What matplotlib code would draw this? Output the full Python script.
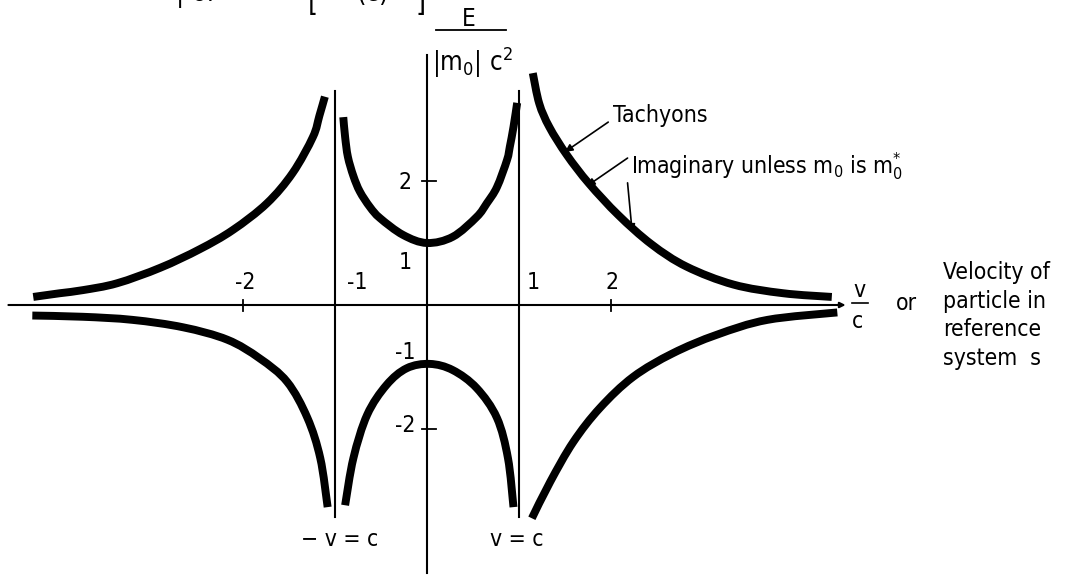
import matplotlib
matplotlib.use('Agg')
import matplotlib.pyplot as plt
import numpy as np
from matplotlib import font_manager
from matplotlib.path import Path
from matplotlib.patches import PathPatch

# curves: v/c and E/(|m0|c^2)
v_tl = [-4.28, -3.99, -3.74, -3.37, -2.90, -2.47, -2.11, -1.74, -1.46, -1.24, -1.17, -1.11]
E_tl = [0.13, 0.19, 0.24, 0.35, 0.60, 0.90, 1.21, 1.64, 2.13, 2.71, 3.05, 3.36]

v_tr = [1.15, 1.22, 1.33, 1.52, 1.76, 2.08, 2.44, 2.82, 3.33, 3.87, 4.40]
E_tr = [3.74, 3.25, 2.87, 2.42, 1.96, 1.45, 0.98, 0.62, 0.33, 0.19, 0.13]

v_mu = [-0.91, -0.89, -0.86, -0.80, -0.73, -0.62, -0.51, -0.26, 0.0, 0.28, 0.54, 0.65, 0.76, 0.87, 0.90, 0.94, 0.98]
E_mu = [3.03, 2.71, 2.39, 2.08, 1.83, 1.58, 1.40, 1.13, 1.00, 1.10, 1.42, 1.64, 1.90, 2.34, 2.55, 2.87, 3.26]

v_bl = [-4.29, -3.74, -3.20, -2.65, -2.17, -1.82, -1.52, -1.30, -1.16, -1.08]
E_bl = [-0.17, -0.19, -0.24, -0.36, -0.56, -0.86, -1.24, -1.82, -2.47, -3.26]

v_mb = [-0.89, -0.80, -0.65, -0.44, -0.22, 0.03, 0.28, 0.54, 0.76, 0.88, 0.94]
E_mb = [-3.23, -2.47, -1.77, -1.29, -1.02, -0.95, -1.05, -1.34, -1.82, -2.47, -3.26]

v_br = [1.14, 1.34, 1.59, 1.88, 2.24, 2.67, 3.15, 3.70, 4.46]
E_br = [-3.44, -2.85, -2.21, -1.66, -1.16, -0.78, -0.48, -0.24, -0.12]

xticks = [-2, 2]
xlabels = ['-2', '-1', '1', '2']
xlabel_pos = [-1.98, -0.76, 1.16, 2.01]
yticks = [2, -2]
ylabels = ['2', '1', '-1', '-2']
ylabel_pos = [1.97, 0.69, -0.76, -1.95]


def smooth(xs, ys):
    # bezier through the read points (catmull-rom handles)
    p = np.column_stack([xs, ys])
    n = len(p)
    verts = [p[0]]
    codes = [Path.MOVETO]
    for i in range(n - 1):
        a = p[i - 1] if i > 0 else p[i]
        d = p[i + 2] if i + 2 < n else p[i + 1]
        verts += [p[i] + (p[i + 1] - a) / 6, p[i + 1] - (d - p[i]) / 6, p[i + 1]]
        codes += [Path.CURVE4] * 3
    return Path(verts, codes)


names = {f.name for f in font_manager.fontManager.ttflist}
cond = [f for f in font_manager.fontManager.ttflist
        if f.name == 'DejaVu Sans' and f.stretch == 'condensed' and f.weight in (400, 'normal')]
if 'Liberation Sans Narrow' in names:
    fam = 'Liberation Sans Narrow'
    fs = 17
elif cond:
    fam = 'DejaVu Sans'
    plt.rcParams['font.stretch'] = 'condensed'
    fs = 16.5
else:
    fam = 'DejaVu Sans'
    fs = 15
plt.rcParams['font.family'] = [fam, 'DejaVu Sans']
plt.rcParams['mathtext.fontset'] = 'custom'
plt.rcParams['mathtext.rm'] = fam

fig = plt.figure(figsize=(10.65, 5.75), dpi=100)
ax = fig.add_axes([0, 0, 1, 1])
ax.set_xlim(-427/92, (1065-427)/92)
ax.set_ylim((305-575)/62, 305/62)
ax.axis('off')

lw = 5.7
for xs, ys in [(v_tl, E_tl), (v_tr, E_tr), (v_mu, E_mu), (v_bl, E_bl), (v_mb, E_mb), (v_br, E_br)]:
    ax.add_patch(PathPatch(smooth(xs, ys), fill=False, edgecolor='black', lw=lw,
                           capstyle='butt', joinstyle='round'))

# axes lines
ax.annotate('', xy=(4.55, 0), xytext=(-4.55, 0),
            arrowprops=dict(arrowstyle='-|>', lw=1.5, color='black', mutation_scale=8, shrinkA=0, shrinkB=0))
ax.plot([0, 0], [4.03, -4.32], color='black', lw=1.5)
for xv in [-1, 1]:
    ax.plot([xv, xv], [3.45, -3.42], color='black', lw=1.5)
for t in xticks:
    ax.plot([t, t], [-0.1, 0.08], color='black', lw=1.3)
for t in yticks:
    ax.plot([-0.05, 0.1], [t, t], color='black', lw=1.3)

for p, s in zip(xlabel_pos, xlabels):
    ax.text(p, 0.36, s, ha='center', va='center', fontsize=fs)
for p, s in zip(ylabel_pos, ylabels):
    ax.text(-0.24, p, s, ha='center', va='center', fontsize=fs)

ax.text(-0.95, -3.79, '− v = c', ha='center', va='center', fontsize=fs)
ax.text(0.98, -3.79, 'v = c', ha='center', va='center', fontsize=fs)

# y label fraction
ax.text(0.45, 4.62, 'E', ha='center', va='center', fontsize=fs + 1)
ax.plot([0.10, 0.86], [4.44, 4.44], color='black', lw=1.3)
ax.text(0.49, 3.92, r'$\mathregular{|m_0|\ c^2}$', ha='center', va='center', fontsize=fs + 2)

# x label fraction
ax.text(4.70, 0.24, 'v', ha='center', va='center', fontsize=fs)
ax.plot([4.62, 4.79], [0.03, 0.03], color='black', lw=1.2)
ax.text(4.68, -0.27, 'c', ha='center', va='center', fontsize=fs)
ax.text(5.21, 0.03, 'or', ha='center', va='center', fontsize=fs)
for yy, s in zip([0.52, 0.05, -0.40, -0.87], ['Velocity of', 'particle in', 'reference', 'system  s']):
    ax.text(5.61, yy, s, ha='left', va='center', fontsize=fs)

# annotations
ax.text(2.02, 3.05, 'Tachyons', ha='left', va='center', fontsize=fs)
ax.text(2.22, 2.24, r'Imaginary unless $\mathregular{m_0}$ is $\mathregular{m_0^{*}}$', ha='left', va='center', fontsize=fs)
arr = dict(arrowstyle='-|>', lw=1.2, color='black', mutation_scale=11, shrinkA=0, shrinkB=0)
ax.annotate('', xy=(1.50, 2.47), xytext=(1.97, 2.95), arrowprops=arr)
ax.annotate('', xy=(1.74, 1.92), xytext=(2.18, 2.37), arrowprops=arr)
ax.annotate('', xy=(2.23, 1.18), xytext=(2.18, 1.97), arrowprops=arr)

# cut-off formula at the top edge (only its lower part is on the page)
ax.text(-2.73, 4.90, '| or', ha='left', va='baseline', fontsize=fs + 3)
ax.text(-1.24, 4.74, '[', ha='center', va='baseline', fontsize=fs + 4)
ax.text(-0.59, 4.90, '(c)', ha='center', va='baseline', fontsize=fs + 3)
ax.text(-0.07, 4.74, ']', ha='center', va='baseline', fontsize=fs + 4)

fig.savefig('out.png', dpi=100)
